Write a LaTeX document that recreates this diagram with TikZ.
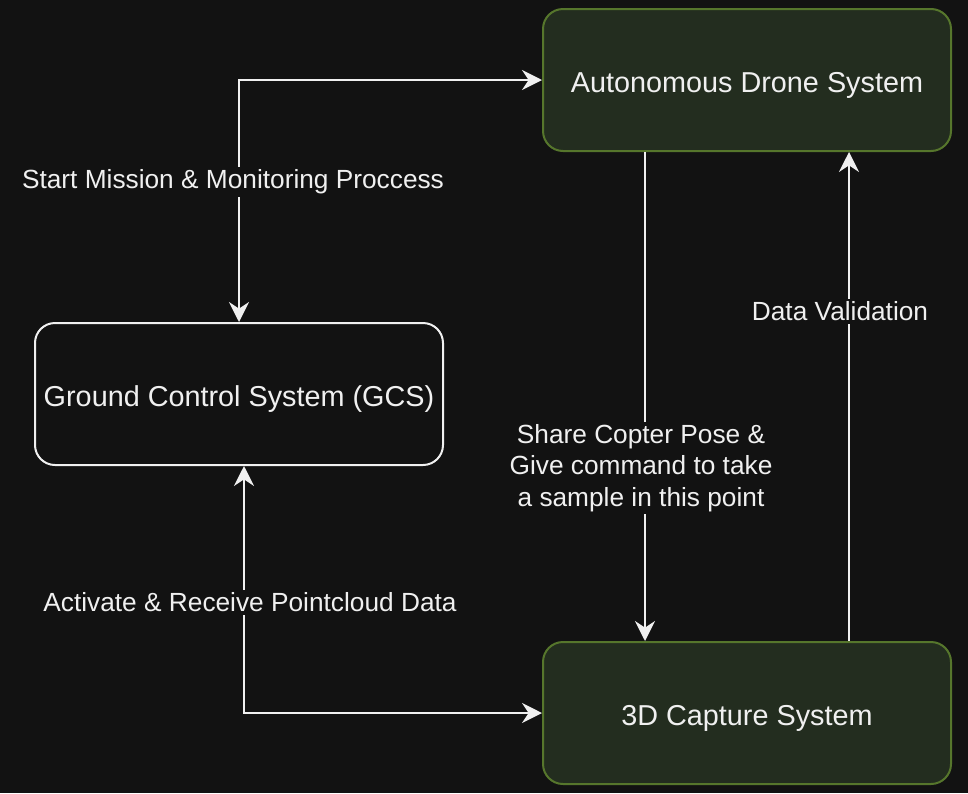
\documentclass[tikz,border=0pt]{standalone}
\usepackage{fontspec}
\setmainfont{Liberation Sans}
\usetikzlibrary{arrows.meta, shapes, calc}

\definecolor{bgdark}{HTML}{121212}
\definecolor{boxgreen}{HTML}{232D1F}
\definecolor{linegreen}{HTML}{56762C}
\definecolor{txtlight}{HTML}{F0F0F0}

\begin{document}
\begin{tikzpicture}[x=0.75pt,y=-0.75pt]
            \fill[bgdark] (0,0) rectangle (968,793);
            \useasboundingbox (0,0) rectangle (968,793);

            \begin{scope}[every node/.style={rectangle,rounded corners=15pt,line width=1.5pt,
                          minimum width=306pt,minimum height=106.5pt,text=txtlight,
                          text height=18pt,text depth=0pt,
                          font=\fontsize{21.6}{26}\selectfont}]
                \node[draw=linegreen,fill=boxgreen] (drone) at (747,80) {Autonomous Drone System};
                \node[draw=txtlight] (gcs) at (239,394) {Ground Control System (GCS)};
                \node[draw=linegreen,fill=boxgreen] (capture) at (747,713) {3D Capture System};
            \end{scope}

            \begin{scope}[>={Stealth[length=15pt,width=15pt,inset=5pt]},
                          every node/.style={fill=bgdark,text=txtlight,inner sep=2pt,align=center,
                                             font=\fontsize{19.7}{23.6}\selectfont},
                          line width=1.5pt, draw=txtlight]
                \draw[<->] (gcs.north) |- node[pos=0.296,xshift=-4.5pt,yshift=-2.25pt] {Start Mission \& Monitoring Proccess} (drone.west);
                \draw[<->] ($(gcs.south)+(5,0)$) |- node[pos=0.276,xshift=4.5pt] {Activate \& Receive Pointcloud Data} (capture.west);
                \draw[->] ($(drone.south)+(-102,0)$) -- node[pos=0.64,xshift=-3pt,yshift=-2.25pt] {Share Copter Pose \&\\Give command to take\\a sample in this point} ($(capture.north)+(-102,0)$);
                \draw[->] ($(capture.north)+(102,0)$) -- node[pos=0.674,xshift=-6.75pt] {Data Validation} ($(drone.south)+(102,0)$);
            \end{scope}
\end{tikzpicture}
\end{document}
